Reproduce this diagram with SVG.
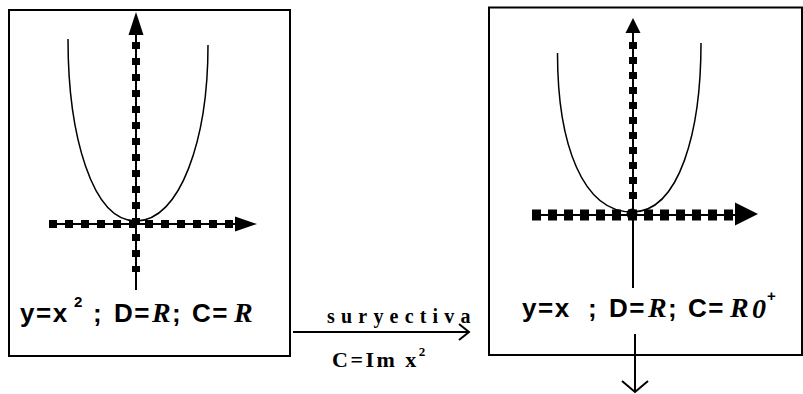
<svg xmlns="http://www.w3.org/2000/svg" width="803" height="394" viewBox="0 0 803 394">
<style>
.box{fill:#fff;stroke:#000;stroke-width:2}
.thin{stroke:#000;stroke-width:2;fill:none}
.curve{stroke:#000;stroke-width:1.5;fill:none}
.dash{stroke:#000;fill:none}
.head{fill:#000}
.open{stroke:#000;stroke-width:2;fill:none}
.t{font-family:"Liberation Sans",Arial,sans-serif;font-weight:bold;font-size:26px;letter-spacing:1.5px;fill:#000}
.sup{font-family:"Liberation Sans",Arial,sans-serif;font-weight:bold;font-size:15px;fill:#000}
.r{font-family:"Liberation Serif","Times New Roman",serif;font-style:italic;font-weight:bold;font-size:28px;fill:#000}
.m{font-family:"Liberation Serif","Times New Roman",serif;font-weight:bold;fill:#000}
</style>
<g id="graph-left">
<rect class="box" x="9" y="10" width="281" height="346"/>
<path class="curve" d="M68,39 C68,135 92,221 136,221 C180,221 208,140 208,45"/>
<line class="thin" x1="136" y1="35" x2="136" y2="290"/>
<line class="dash" x1="136" y1="42" x2="136" y2="272" stroke-width="8" stroke-dasharray="7 9"/>
<polygon class="head" points="136,12 128.5,35 143.5,35"/>
<line class="thin" x1="49" y1="224" x2="236" y2="224" stroke-width="3"/>
<line class="dash" x1="49" y1="224" x2="236" y2="224" stroke-width="8" stroke-dasharray="8 8"/>
<polygon class="head" points="257,224 235,216.5 235,231.5"/>
<text class="t" y="322"><tspan x="20">y=x</tspan><tspan class="sup" x="74" y="307">2</tspan><tspan x="93" y="322">;</tspan><tspan x="114">D=</tspan><tspan class="r" x="152">R</tspan><tspan x="172">;</tspan><tspan x="192">C=</tspan><tspan class="r" x="234">R</tspan></text>
</g>
<g id="graph-right">
<rect class="box" x="489" y="7.5" width="313" height="347.5"/>
<path class="curve" d="M557.5,53 C557.5,145 583,212 632,212 C680,212 701,130 701,43"/>
<line class="thin" x1="633" y1="33" x2="633" y2="288"/>
<line class="dash" x1="633" y1="42" x2="633" y2="200" stroke-width="8" stroke-dasharray="7 8"/>
<polygon class="head" points="633,18 625.5,33 640.5,33"/>
<line class="thin" x1="532" y1="215" x2="736" y2="215" stroke-width="3"/>
<line class="dash" x1="532" y1="215" x2="736" y2="215" stroke-width="11" stroke-dasharray="9 7"/>
<polygon class="head" points="758,214 735,202.5 735,225.5"/>
<circle cx="632" cy="214" r="5.5" fill="#000"/>
<text class="t" y="317"><tspan x="522">y=x</tspan><tspan x="588">;</tspan><tspan x="609">D=</tspan><tspan class="r" x="648">R</tspan><tspan x="668">;</tspan><tspan x="688">C=</tspan><tspan class="r" x="730">R</tspan><tspan class="r" font-size="16" x="752" y="318">0</tspan><tspan class="sup" font-weight="normal" font-family="Liberation Serif" font-size="16" x="767" y="301">+</tspan></text>
</g>
<g id="connectors">
<line class="open" x1="293" y1="332" x2="469" y2="332"/>
<polyline class="open" points="459,324 469,332 459,340"/>
<line class="open" x1="635" y1="334" x2="635" y2="392"/>
<polyline class="open" points="622,381 635,392 648,381"/>
</g>
<g id="labels">
<text class="m" x="327" y="323" font-size="20" letter-spacing="6.2">suryectiva</text>
<text class="m" x="332" y="367" font-size="22" letter-spacing="2.5">C=Im  x<tspan font-size="13" dy="-11">2</tspan></text>
</g>
</svg>
